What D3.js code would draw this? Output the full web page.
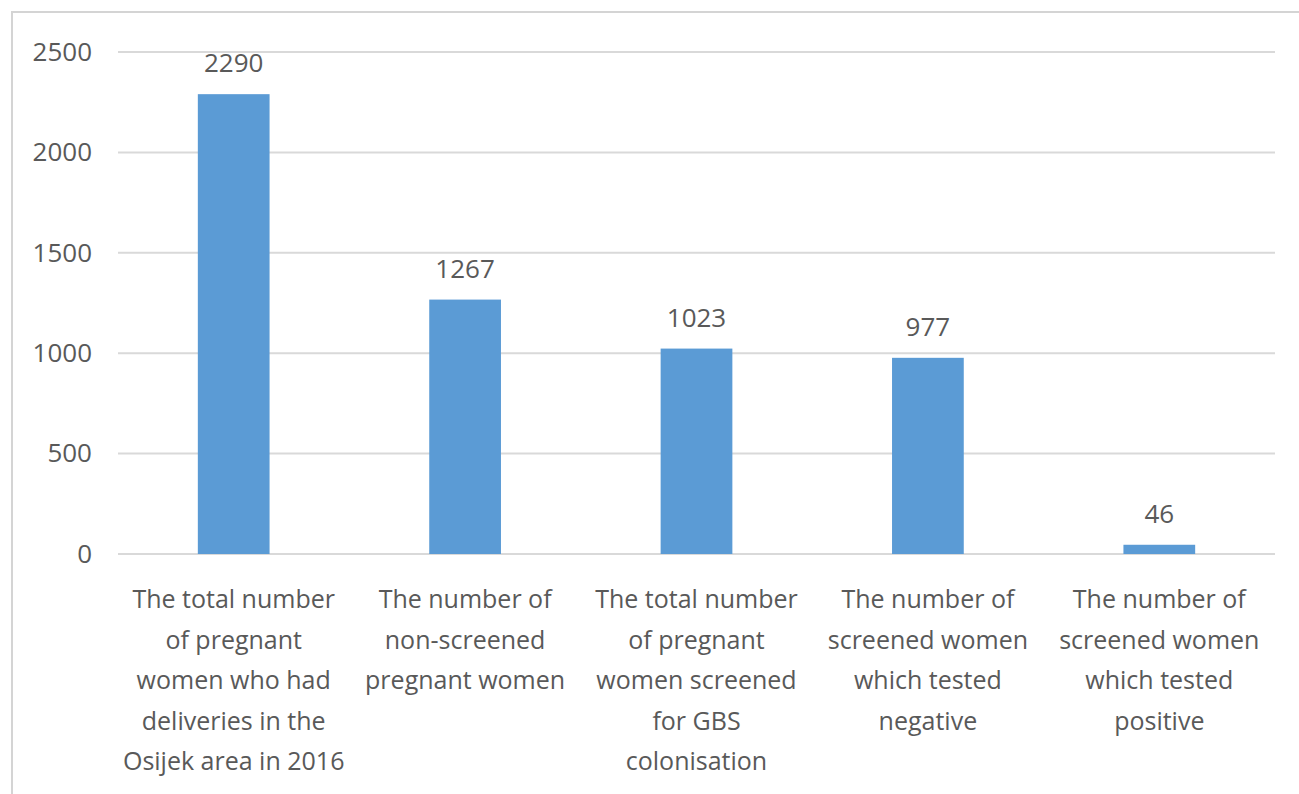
<!DOCTYPE html>
<html>
<head>
<meta charset="utf-8">
<script src="https://cdn.jsdelivr.net/npm/d3@7"></script>
<style>
  html, body { margin: 0; padding: 0; background: #fff; }
  svg { display: block; }
  text { font-family: "Open Sans", "Liberation Sans", sans-serif; fill: #595959; }
</style>
</head>
<body>
<svg id="chart" width="1299" height="794"></svg>
<script>
// Category labels, one entry per wrapped line
const categories = [
  ["The total number", "of pregnant", "women who had", "deliveries in the", "Osijek area in 2016"],
  ["The number of", "non-screened", "pregnant women"],
  ["The total number", "of pregnant", "women screened", "for GBS", "colonisation"],
  ["The number of", "screened women", "which tested", "negative"],
  ["The number of", "screened women", "which tested", "positive"]
];
const values = [2290, 1267, 1023, 977, 46];
const yTicks = [0, 500, 1000, 1500, 2000, 2500];

const svg = d3.select("#chart");
const W = 1299, H = 794;
const plot = { left: 118, right: 1275, top: 52, bottom: 554 };

// Outer chart frame (only top and left edges fall inside the view)
svg.append("rect")
  .attr("x", 12).attr("y", 12)
  .attr("width", W + 20).attr("height", H + 20)
  .attr("fill", "none")
  .attr("stroke", "#d4d4d4")
  .attr("stroke-width", 2);

const x = d3.scaleBand()
  .domain(d3.range(categories.length))
  .range([plot.left, plot.right])
  .paddingInner(0.69)
  .paddingOuter(0.345);

const y = d3.scaleLinear()
  .domain([0, 2500])
  .range([plot.bottom, plot.top]);

// Horizontal gridlines
svg.append("g")
  .selectAll("line")
  .data(yTicks)
  .join("line")
  .attr("x1", plot.left).attr("x2", plot.right)
  .attr("y1", d => y(d)).attr("y2", d => y(d))
  .attr("stroke", "#d9d9d9")
  .attr("stroke-width", 2);

// Y axis labels
const yAxis = d3.axisLeft(y).tickValues(yTicks).tickFormat(d3.format("d"))
  .tickSize(0).tickPadding(0);
const gy = svg.append("g")
  .attr("transform", `translate(${plot.left - 26},0)`)
  .call(yAxis);
gy.select(".domain").remove();
gy.selectAll("text")
  .attr("font-family", null)
  .style("font-size", "26px")
  .attr("fill", "#595959");

// Bars
svg.append("g")
  .selectAll("rect")
  .data(values)
  .join("rect")
  .attr("x", (d, i) => x(i))
  .attr("width", x.bandwidth())
  .attr("y", d => y(d))
  .attr("height", d => y(0) - y(d))
  .attr("fill", "#5b9bd5");

// Value labels above bars
svg.append("g")
  .selectAll("text")
  .data(values)
  .join("text")
  .attr("x", (d, i) => x(i) + x.bandwidth() / 2)
  .attr("y", d => y(d) - 22)
  .attr("text-anchor", "middle")
  .style("font-size", "26px")
  .text(d => d);

// Category labels below the axis
const cat = svg.append("g")
  .selectAll("text")
  .data(categories)
  .join("text")
  .attr("x", (d, i) => x(i) + x.bandwidth() / 2)
  .attr("y", 608)
  .attr("text-anchor", "middle")
  .style("font-size", "25px");
cat.selectAll("tspan")
  .data(d => d)
  .join("tspan")
  .attr("x", function() { return this.parentNode.getAttribute("x"); })
  .attr("dy", (d, j) => j === 0 ? 0 : 40.5)
  .text(d => d);
</script>
</body>
</html>
